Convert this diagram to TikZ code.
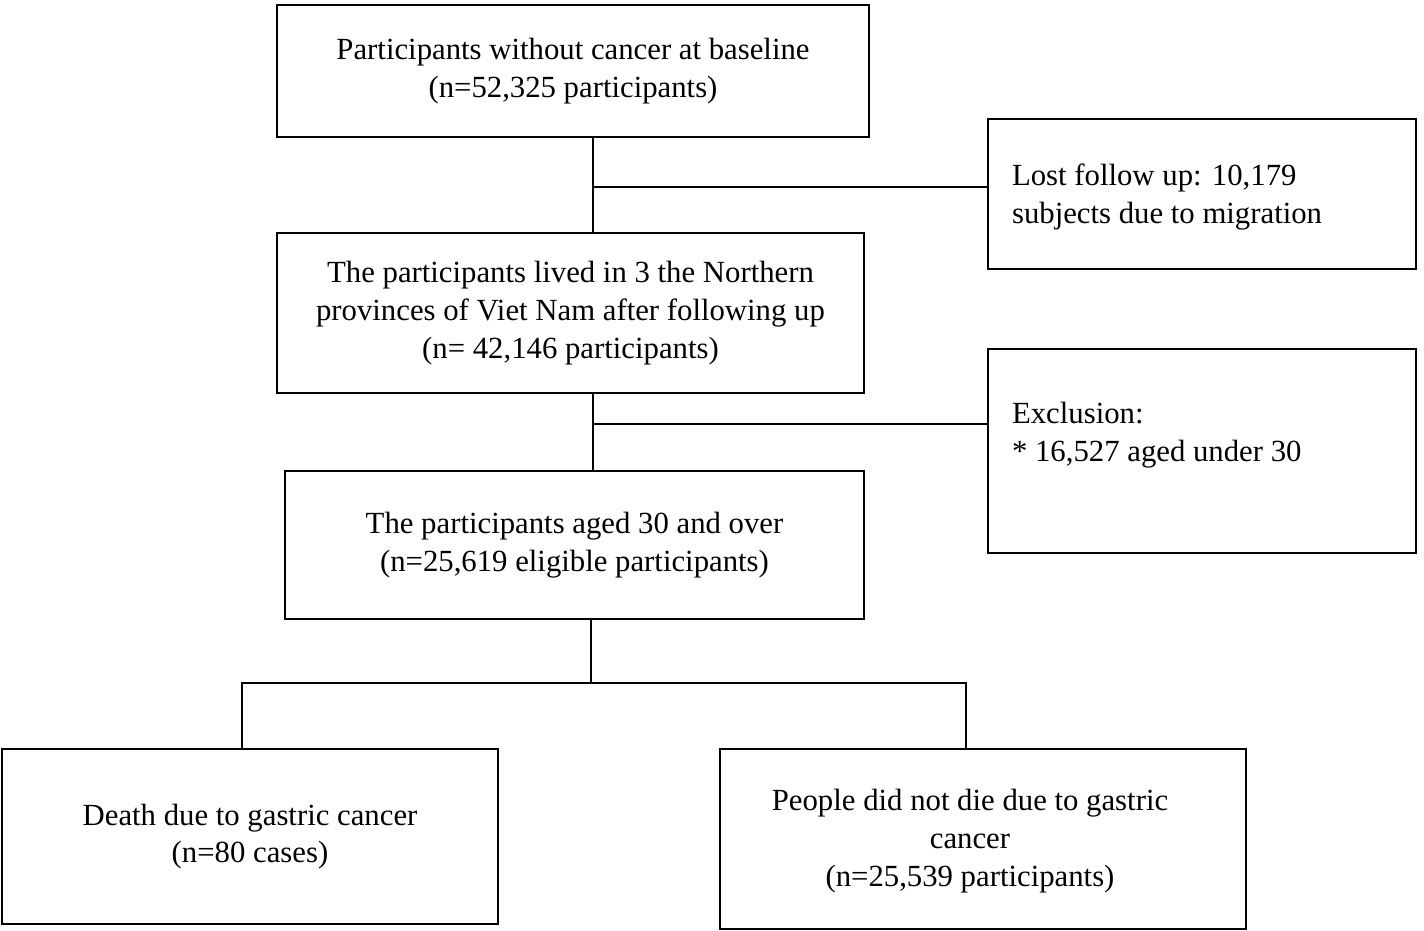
\documentclass[tikz,border=0pt]{standalone}
\usepackage{fontspec}
\setmainfont{Liberation Serif}
\usetikzlibrary{calc}

\tikzset{
  flowbox/.style={draw, line width=1.5pt, align=center, inner sep=0pt,
    font=\fontsize{17.5}{21.5}\selectfont},
  sidetext/.style={anchor=west, align=left, inner sep=0pt,
    font=\fontsize{17.5}{21.5}\selectfont},
  link/.style={line width=1.3pt}
}

\begin{document}
\begin{tikzpicture}[x=1cm,y=1cm]
\useasboundingbox (0,0) rectangle (28.48,-18.62);

% Main column
\node[flowbox, minimum width=11.84cm, minimum height=2.64cm] (base) at (11.46,-1.42)
  {Participants without cancer at baseline\\(n=52,325 participants)};
\node[flowbox, minimum width=11.74cm, minimum height=3.2cm] (lived) at (11.41,-6.26)
  {The participants lived in 3 the Northern\\provinces of Viet Nam after following up\\(n= 42,146 participants)};
\node[flowbox, minimum width=11.58cm, minimum height=2.96cm] (aged) at (11.49,-10.9)
  {The participants aged 30 and over\\(n=25,619 eligible participants)};

% Side boxes
\node[flowbox, minimum width=8.56cm, minimum height=3.0cm] (lost) at (24.04,-3.88) {};
\node[sidetext] (losttxt) at ($(lost.west)+(0.5,-0.06)$)
  {Lost follow up: 10,179\\subjects due to migration};
\node[flowbox, minimum width=8.56cm, minimum height=4.08cm] (excl) at (24.04,-9.02) {};
\node[sidetext] (excltxt) at ($(excl.west)+(0.5,0.32)$)
  {Exclusion:\\* 16,527 aged under 30};

% Outcomes
\node[flowbox, minimum width=9.92cm, minimum height=3.5cm] (death) at (5.0,-16.73)
  {Death due to gastric cancer\\(n=80 cases)};
\node[flowbox, minimum width=10.52cm, minimum height=3.6cm] (alive) at (19.66,-16.78) {};
\node[align=center, inner sep=0pt, font=\fontsize{17.5}{21.5}\selectfont] (alivetxt)
  at ($(alive.center)+(-0.26,-0.04)$)
  {People did not die due to gastric\\cancer\\(n=25,539 participants)};

% Connectors
\coordinate (j1) at (11.86,-3.74);
\coordinate (j2) at (11.86,-8.48);
\coordinate (j3) at (11.82,-13.66);
\coordinate (jl) at (4.84,-13.66);
\coordinate (jr) at (19.32,-13.66);

\draw[link] (j1 |- base.south) -- (j1 |- lived.north);
\draw[link] (j1) -- (j1 -| lost.west);
\draw[link] (j2 |- lived.south) -- (j2 |- aged.north);
\draw[link] (j2) -- (j2 -| excl.west);
\draw[link] (j3 |- aged.south) -- (j3);
\draw[link] (jl |- death.north) -- (jl) -- (jr) -- (jr |- alive.north);
\end{tikzpicture}
\end{document}
